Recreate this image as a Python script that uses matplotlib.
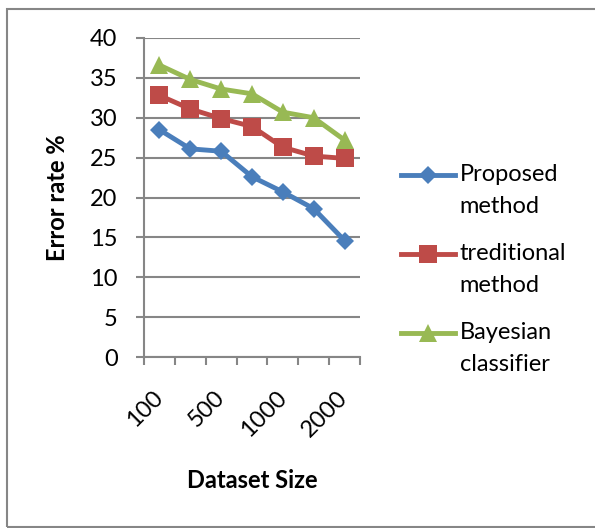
import numpy as np
import matplotlib
matplotlib.use('Agg')
import matplotlib.pyplot as plt
from matplotlib.patches import Rectangle
from matplotlib.ticker import FixedLocator, NullFormatter
from matplotlib.legend_handler import HandlerLine2D

plt.rcParams['font.family'] = ['Lato', 'DejaVu Sans']

# Data
tick_labels = ['100', '', '500', '', '1000', '', '2000']
proposed = [28.5, 26.1, 25.8, 22.6, 20.7, 18.6, 14.6]
traditional = [32.8, 31.1, 29.9, 28.9, 26.3, 25.2, 24.9]
bayesian = [36.6, 34.8, 33.6, 33.0, 30.7, 30.0, 27.2]

series = [
    ('Proposed\nmethod', proposed, '#4A7EBB', 'D', 9),
    ('treditional\nmethod', traditional, '#BE4B48', 's', 13),
    ('Bayesian\nclassifier', bayesian, '#98B954', '^', 13),
]

grey = '#868686'
fs = 17
line_sp = 1.66


class FirstLineHandler(HandlerLine2D):
    # put the legend key next to the first line of a two-line label
    def create_artists(self, legend, orig_handle, xdescent, ydescent,
                       width, height, fontsize, trans):
        artists = super().create_artists(legend, orig_handle, xdescent,
                                         ydescent, width, height, fontsize,
                                         trans)
        shift = 11.5  # half the gap between the two text lines, in points
        for a in artists:
            a.set_ydata(np.asarray(a.get_ydata()) + shift)
        return artists


fig = plt.figure(figsize=(5.95, 5.28), dpi=100)
ax = fig.add_axes([144 / 595, 1 - 357 / 528, 216 / 595, 319 / 528])

x = np.arange(len(tick_labels))
for label, vals, color, marker, ms in series:
    ax.plot(x, vals, color=color, lw=3.5, marker=marker, markersize=ms,
            markeredgewidth=0, label=label)

ax.set_ylim(0, 40)
ax.set_yticks(np.arange(0, 41, 5))
ax.set_xlim(-0.5, len(tick_labels) - 0.5)

# category boundaries as tick marks, labels at category centres
ax.xaxis.set_major_locator(FixedLocator(np.arange(-0.5, len(tick_labels), 1.0)))
ax.xaxis.set_major_formatter(NullFormatter())
ax.set_xticks(x, minor=True)
ax.set_xticklabels(tick_labels, minor=True, rotation=45, ha='right',
                   va='center', rotation_mode='anchor', fontsize=fs)
ax.tick_params(axis='x', which='minor', length=0, pad=27)
ax.tick_params(axis='x', which='major', length=6, width=1.5, color=grey)
ax.tick_params(axis='y', length=6, width=1.5, color=grey, labelsize=fs, pad=13)

ax.grid(axis='y', color=grey, lw=1.5)
ax.set_axisbelow(True)
for side in ['top', 'right']:
    ax.spines[side].set_visible(False)
for side in ['left', 'bottom']:
    ax.spines[side].set_color(grey)
    ax.spines[side].set_linewidth(1.5)

ax.set_ylabel('Error rate %', fontsize=fs, fontweight='bold')
ax.yaxis.set_label_coords((69 - 144) / 216, 0.5)
fig.text(252 / 595, 1 - 481 / 528, 'Dataset Size', fontsize=fs,
         fontweight='bold', ha='center', va='center')

handles, labels = ax.get_legend_handles_labels()
leg = fig.legend(handles, labels, loc='upper left',
                 bbox_to_anchor=(389 / 595, 1 - 152 / 528),
                 frameon=False, fontsize=fs, handlelength=2.3,
                 handletextpad=0.2, labelspacing=1.1, borderpad=0,
                 handler_map={h: FirstLineHandler() for h in handles})
for t in leg.get_texts():
    t.set_linespacing(line_sp)

# outer chart border
fig.patches.append(Rectangle((7 / 595, 1 - 527 / 528), 1.0, 518 / 528,
                             transform=fig.transFigure, fill=False,
                             edgecolor=grey, lw=1.5))

fig.savefig('out.png', dpi=100)
